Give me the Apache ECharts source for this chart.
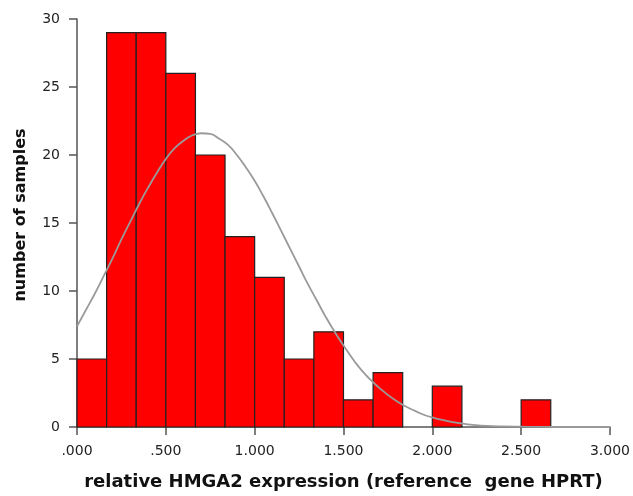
<!DOCTYPE html>
<html>
<head>
<meta charset="utf-8">
<script src="https://cdn.jsdelivr.net/npm/echarts@6/dist/echarts.min.js"></script>
<style>
  html, body { margin: 0; padding: 0; background: #fff; }
  #chart { width: 633px; height: 496px; }
</style>
</head>
<body>
<div id="chart"></div>
<script>
  // histogram bins (bin width 1/6)
  const binStarts = [0, 0.1667, 0.3333, 0.5, 0.6667, 0.8333, 1.0, 1.1667, 1.3333, 1.5, 1.6667, 1.8333, 2.0, 2.1667, 2.3333, 2.5]
  const binEnds = [0.1667, 0.3333, 0.5, 0.6667, 0.8333, 1.0, 1.1667, 1.3333, 1.5, 1.6667, 1.8333, 2.0, 2.1667, 2.3333, 2.5, 2.6667]
  const counts = [5, 29, 29, 26, 20, 14, 11, 5, 7, 2, 4, 0, 3, 0, 0, 2]

  // fitted normal curve
  const curveX = [0, 0.05, 0.1, 0.15, 0.2, 0.25, 0.3, 0.35, 0.4, 0.45, 0.5, 0.55, 0.6, 0.65, 0.7, 0.75, 0.8, 0.85, 0.9, 0.95,
    1.0, 1.05, 1.1, 1.15, 1.2, 1.25, 1.3, 1.35, 1.4, 1.45, 1.5, 1.6, 1.7, 1.8, 1.9, 2.0, 2.2, 2.4, 2.6, 2.8, 3.0]
  const curveY = [7.4, 8.6, 9.8, 11.1, 12.4, 13.8, 15.1, 16.4, 17.6, 18.7, 19.7, 20.5, 21.05, 21.45, 21.6, 21.55, 21.2, 20.75, 20.0, 19.1,
    18.1, 16.95, 15.7, 14.4, 13.1, 11.8, 10.5, 9.3, 8.1, 7.0, 6.0, 4.2, 2.9, 1.9, 1.2, 0.7, 0.2, 0.05, 0.01, 0, 0]

  const xTicks = ['.000', '.500', '1.000', '1.500', '2.000', '2.500', '3.000']

  const histData = binStarts.map((s, i) => [s, binEnds[i], counts[i]])
  const curveData = curveX.map((x, i) => [x, curveY[i]])

  const axisColor = '#555'
  const chart = echarts.init(document.getElementById('chart'))
  chart.setOption({
    animation: false,
    grid: { left: 77, right: 22, top: 19, bottom: 67 },
    xAxis: {
      type: 'value',
      min: 0,
      max: 3,
      interval: 0.5,
      name: 'relative HMGA2 expression (reference  gene HPRT)',
      nameLocation: 'middle',
      nameGap: 46,
      nameTextStyle: { fontFamily: 'DejaVu Sans', fontWeight: 'bold', fontSize: 18, color: '#111' },
      axisLine: { show: true, lineStyle: { color: axisColor, width: 1.5 } },
      axisTick: { show: true, length: 8, lineStyle: { color: axisColor, width: 1.5 } },
      axisLabel: {
        margin: 17,
        fontFamily: 'DejaVu Sans',
        fontSize: 14,
        color: '#222',
        formatter: function (v) { return xTicks[Math.round(v / 0.5)] }
      },
      splitLine: { show: false }
    },
    yAxis: {
      type: 'value',
      min: 0,
      max: 30,
      interval: 5,
      name: 'number of samples',
      nameLocation: 'middle',
      nameGap: 48,
      nameTextStyle: { fontFamily: 'DejaVu Sans', fontWeight: 'bold', fontSize: 16, color: '#111', padding: [0, 0, 0, 16] },
      axisLine: { show: true, lineStyle: { color: axisColor, width: 1.5 } },
      axisTick: { show: true, length: 8, lineStyle: { color: axisColor, width: 1.5 } },
      axisLabel: { margin: 17, fontFamily: 'DejaVu Sans', fontSize: 14, color: '#222' },
      splitLine: { show: false }
    },
    series: [
      {
        type: 'custom',
        data: histData,
        encode: { x: [0, 1], y: 2 },
        renderItem: function (params, api) {
          const count = api.value(2)
          if (!count) return null
          const p0 = api.coord([api.value(0), count])
          const p1 = api.coord([api.value(1), 0])
          return {
            type: 'rect',
            shape: { x: p0[0], y: p0[1], width: p1[0] - p0[0], height: p1[1] - p0[1] },
            style: { fill: '#ff0000', stroke: '#222', lineWidth: 1.2 }
          }
        },
        z: 2
      },
      {
        type: 'line',
        data: curveData,
        smooth: true,
        showSymbol: false,
        lineStyle: { color: '#9a9a9a', width: 1.8 },
        z: 3
      }
    ]
  })
</script>
</body>
</html>
